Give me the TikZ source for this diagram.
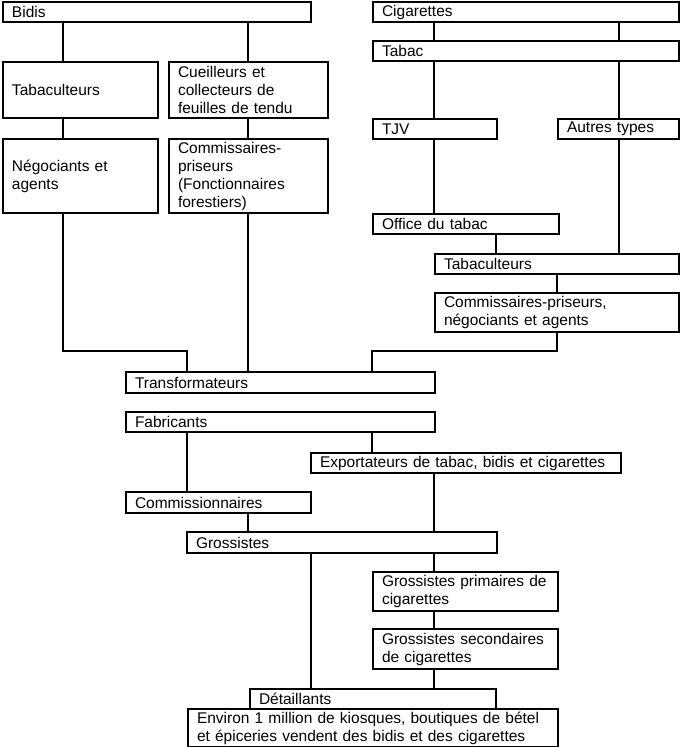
\documentclass[tikz,border=0pt]{standalone}
\usepackage{fontspec}
\setmainfont{Liberation Sans}
\begin{document}
\begin{tikzpicture}[x=1pt,y=-1pt,
  box/.style={draw, line width=2pt, rectangle, anchor=north west, align=left,
    inner xsep=9pt, inner ysep=0pt, font=\fontsize{15.5}{18}\selectfont},
  link/.style={line width=2pt}]
\useasboundingbox (0,0) rectangle (683,747);
% left column
\node[box, minimum width=308pt, minimum height=20pt, text width=290pt] (bidis) at (2,1) {Bidis};
\node[box, minimum width=155pt, minimum height=56pt, text width=137pt] (tabL) at (2,61) {Tabaculteurs};
\node[box, minimum width=159pt, minimum height=56pt, text width=141pt] (cueil) at (168,61) {Cueilleurs et\\collecteurs de\\feuilles de tendu};
\node[box, minimum width=155pt, minimum height=74pt, text width=137pt] (nego) at (2,138) {Négociants et\\agents};
\node[box, minimum width=159pt, minimum height=74pt, text width=141pt] (commF) at (168,138) {Commissaires-\\priseurs\\(Fonctionnaires\\forestiers)};
% right column
\node[box, minimum width=306pt, minimum height=20pt, text width=288pt] (cig) at (372,1) {Cigarettes};
\node[box, minimum width=306pt, minimum height=20pt, text width=288pt] (tabac) at (372,40) {Tabac};
\node[box, minimum width=124pt, minimum height=20pt, text width=106pt] (tjv) at (372,118) {TJV};
\node[box, minimum width=121pt, minimum height=20pt, text width=103pt] (autres) at (557,118) {Autres types};
\node[box, minimum width=186pt, minimum height=20pt, text width=168pt] (office) at (372,213) {Office du tabac};
\node[box, minimum width=244pt, minimum height=20pt, text width=226pt] (tabR) at (434,253) {Tabaculteurs};
\node[box, minimum width=244pt, minimum height=39pt, text width=226pt] (commR) at (434,292) {Commissaires-priseurs,\\négociants et agents};
% lower part
\node[box, minimum width=309pt, minimum height=21pt, text width=291pt] (transf) at (125,371) {Transformateurs};
\node[box, minimum width=309pt, minimum height=20pt, text width=291pt] (fabr) at (125,411) {Fabricants};
\node[box, minimum width=310pt, minimum height=20pt, text width=292pt] (export) at (310,452) {Exportateurs de tabac, bidis et cigarettes};
\node[box, minimum width=185pt, minimum height=21pt, text width=167pt] (commiss) at (125,491) {Commissionnaires};
\node[box, minimum width=310pt, minimum height=21pt, text width=292pt] (gross) at (186,531) {Grossistes};
\node[box, minimum width=185pt, minimum height=39pt, text width=167pt] (gp) at (372,571) {Grossistes primaires de\\cigarettes};
\node[box, minimum width=185pt, minimum height=40pt, text width=167pt] (gs) at (372,628) {Grossistes secondaires\\de cigarettes};
\node[box, minimum width=246pt, minimum height=20pt, text width=228pt] (detail) at (249,688) {Détaillants};
\node[box, minimum width=370pt, minimum height=38pt, text width=352pt] (env) at (187,708) {Environ 1 million de kiosques, boutiques de bétel\\et épiceries vendent des bidis et des cigarettes};
% connectors
\draw[link] (bidis.south -| 63,0) -- (tabL.north -| 63,0);
\draw[link] (bidis.south -| 248,0) -- (cueil.north -| 248,0);
\draw[link] (tabL.south -| 63,0) -- (nego.north -| 63,0);
\draw[link] (cueil.south -| 248,0) -- (commF.north -| 248,0);
\draw[link] (nego.south -| 63,0) |- (187,351) -- (transf.north -| 187,0);
\draw[link] (commF.south -| 248,0) -- (transf.north -| 248,0);
\draw[link] (commR.south -| 557,0) |- (372,351) -- (transf.north -| 372,0);
\draw[link] (cig.south -| 434,0) -- (tabac.north -| 434,0);
\draw[link] (cig.south -| 619,0) -- (tabac.north -| 619,0);
\draw[link] (tabac.south -| 434,0) -- (tjv.north -| 434,0);
\draw[link] (tabac.south -| 619,0) -- (autres.north -| 619,0);
\draw[link] (tjv.south -| 434,0) -- (office.north -| 434,0);
\draw[link] (office.south -| 496,0) -- (tabR.north -| 496,0);
\draw[link] (autres.south -| 619,0) -- (tabR.north -| 619,0);
\draw[link] (tabR.south -| 557,0) -- (commR.north -| 557,0);
\draw[link] (fabr.south -| 372,0) -- (export.north -| 372,0);
\draw[link] (fabr.south -| 187,0) -- (commiss.north -| 187,0);
\draw[link] (commiss.south -| 248,0) -- (gross.north -| 248,0);
\draw[link] (export.south -| 434,0) -- (gross.north -| 434,0);
\draw[link] (gross.south -| 311,0) -- (detail.north -| 311,0);
\draw[link] (gross.south -| 434,0) -- (gp.north -| 434,0);
\draw[link] (gp.south -| 434,0) -- (gs.north -| 434,0);
\draw[link] (gs.south -| 434,0) -- (detail.north -| 434,0);
\end{tikzpicture}
\end{document}
